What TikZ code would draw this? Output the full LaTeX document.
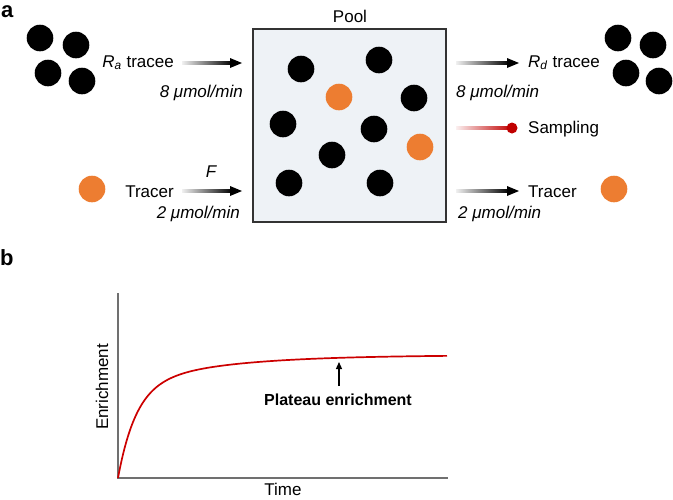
\documentclass[tikz,border=0pt]{standalone}
\usepackage{fontspec}
\setmainfont{Liberation Sans}
\usetikzlibrary{calc,arrows.meta}
\definecolor{orng}{HTML}{ED7D31}
\definecolor{poolfill}{HTML}{EEF2F6}
\definecolor{sampred}{HTML}{C00000}
\definecolor{curvered}{HTML}{CC0000}
\definecolor{axisgray}{HTML}{707070}
\newcommand{\myGradArrow}[2]{%
  \shade[left color=black!6, right color=black] ($(#1)+(0,-1.4)$) rectangle ($(#2)+(-10,1.4)$);
  \fill ($(#2)+(-12,-5)$) -- (#2) -- ($(#2)+(-12,5)$) -- cycle;}
\begin{document}
\begin{tikzpicture}[x=1pt,y=-1pt,
  txt/.style={font=\fontsize{17}{20}\selectfont, inner sep=0pt},
  itxt/.style={font=\fontsize{17}{20}\selectfont\itshape, inner sep=0pt},
  lbl/.style={font=\fontsize{22}{26}\selectfont\bfseries, inner sep=0pt},
  blk/.style={circle, fill=black, minimum size=26.6pt, inner sep=0pt},
  orn/.style={circle, fill=orng, minimum size=26.6pt, inner sep=0pt}]
\useasboundingbox (0,0) rectangle (673,499);

% panel labels
\node[lbl, anchor=base west, text height=11.5pt, text depth=0pt] (la) at (1,17) {a};
\node[lbl, anchor=base west] (lb) at (0,265) {b};

% pool
\node[draw=black!80, fill=poolfill, line width=1.3pt, minimum width=193pt, minimum height=193pt, inner sep=0pt] (pool) at (349.5,125.5) {};
\node[txt, anchor=base] (pooltxt) at (350,22) {Pool};
\node[blk] (p1) at (301,69) {};
\node[blk] (p2) at (379,60) {};
\node[orn] (p3) at (339,97) {};
\node[blk] (p4) at (414,98) {};
\node[blk] (p5) at (283,124) {};
\node[blk] (p6) at (374,129) {};
\node[orn] (p7) at (420,147) {};
\node[blk] (p8) at (332,155) {};
\node[blk] (p9) at (289,183) {};
\node[blk] (p10) at (380,183) {};

% left tracee group
\node[blk] (l1) at (40,38) {};
\node[blk] (l2) at (76,45) {};
\node[blk] (l3) at (48,73) {};
\node[blk] (l4) at (82,81) {};
% right tracee group
\node[blk] (r1) at (618,38) {};
\node[blk] (r2) at (653,45) {};
\node[blk] (r3) at (626,73) {};
\node[blk] (r4) at (659,81) {};
% tracer circles
\node[orn] (lt) at (92,189) {};
\node[orn] (rt) at (614,189) {};

% left texts
\node[txt, anchor=base east] (ratxt) at (174,67) {\textit{R}\textsubscript{\textit{a}} tracee};
\node[itxt, anchor=base east] (rarate) at (243,97) {8 μmol/min};
\node[txt, anchor=base east] (tracerL) at (174,197) {Tracer};
\node[itxt, anchor=base] (ftxt) at (211,177) {F};
\node[itxt, anchor=base east] (trrateL) at (240,218) {2 μmol/min};

% right texts
\node[txt, anchor=base west] (rdtxt) at (528,67) {\textit{R}\textsubscript{\textit{d}} tracee};
\node[itxt, anchor=base west] (rdrate) at (456,97) {8 μmol/min};
\node[txt, anchor=base west] (samp) at (528,133) {Sampling};
\node[txt, anchor=base west] (tracerR) at (528,197) {Tracer};
\node[itxt, anchor=base west] (trrateR) at (458,218) {2 μmol/min};

% arrows
\coordinate (a1s) at (182,63);  \coordinate (a1e) at (242,63);
\coordinate (a2s) at (182,191); \coordinate (a2e) at (242,191);
\coordinate (a3s) at (456,63);  \coordinate (a3e) at (519,63);
\coordinate (a4s) at (456,191); \coordinate (a4e) at (519,191);
\myGradArrow{a1s}{a1e}
\myGradArrow{a2s}{a2e}
\myGradArrow{a3s}{a3e}
\myGradArrow{a4s}{a4e}

% sampling
\coordinate (s1) at (456,128); \coordinate (s2) at (512,128);
\shade[left color=sampred!6, right color=sampred] ($(s1)+(0,-1.3)$) rectangle ($(s2)+(0,1.3)$);
\fill[sampred] (s2) circle (5.5);

% panel b chart
\coordinate (orig) at (118,478);
\coordinate (ytop) at (118,293);
\coordinate (xend) at (448,478);
\draw[axisgray, line width=1.8pt] (ytop) -- (orig) -- (xend);
\draw[curvered, line width=1.7pt, domain=0:329, samples=200, smooth]
  plot ({118+\x},{478-90*(1-exp(-\x/18))-33*(1-exp(-\x/90))});
\node[txt, rotate=90] (ylab) at (102,387) {Enrichment};
\node[txt, anchor=base, text depth=0pt] (xlab) at (283,495) {Time};
\node[font=\fontsize{16}{19}\selectfont\bfseries, inner sep=0pt] (plat) at (338,400) {Plateau enrichment};
\coordinate (pltail) at (339,386);
\coordinate (pltip) at (339,362);
\draw[line width=1.3pt, -{Triangle[length=7pt,width=6pt]}] (pltail) -- (pltip);
\end{tikzpicture}
\end{document}
